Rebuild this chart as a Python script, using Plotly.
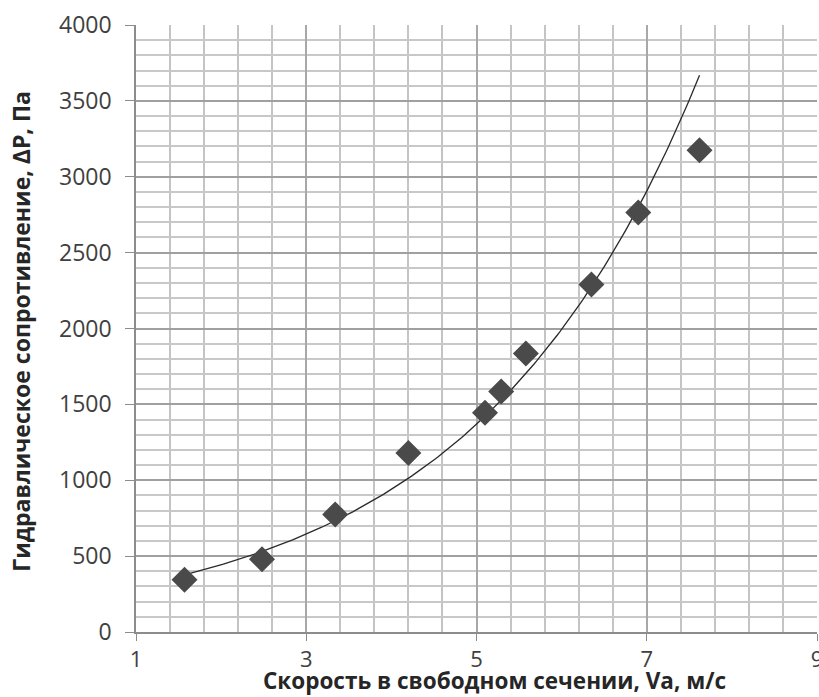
import numpy as np
import plotly.graph_objects as go

# Data
velocity = [1.57, 2.48, 3.34, 4.20, 5.10, 5.29, 5.58, 6.35, 6.90, 7.62]
pressure = [345, 480, 775, 1180, 1445, 1585, 1835, 2290, 2765, 3175]

x_title = "Скорость в свободном сечении, Va, м/с"
y_title = "Гидравлическое сопротивление, ΔP, Па"

# Exponential trendline (least squares on log), like a spreadsheet trendline
b, ln_a = np.polyfit(np.array(velocity), np.log(np.array(pressure)), 1)
xs = np.linspace(min(velocity), max(velocity), 200)
ys = np.exp(ln_a) * np.exp(b * xs)

fig = go.Figure()
fig.add_trace(go.Scatter(
    x=xs, y=ys, mode="lines",
    line=dict(color="#2a2a2a", width=1.3),
    hoverinfo="skip", showlegend=False,
))
fig.add_trace(go.Scatter(
    x=velocity, y=pressure, mode="markers",
    marker=dict(symbol="diamond", size=20, color="#4a4a4a",
                line=dict(width=0)),
    showlegend=False,
))

font_family = "Open Sans, Liberation Sans, sans-serif"

fig.update_layout(
    width=819, height=697,
    margin=dict(l=136, r=2, t=25, b=65),
    paper_bgcolor="white", plot_bgcolor="white",
    font=dict(family=font_family, color="#404040"),
    annotations=[
        dict(text="<b>" + x_title + "</b>", xref="paper", yref="paper",
             x=0.5265, y=-0.0806, xanchor="center", yanchor="middle",
             showarrow=False, font=dict(size=22.5, color="#262626")),
        dict(text="<b>" + y_title + "</b>", xref="paper", yref="paper",
             x=-0.17, y=0.495, xanchor="center", yanchor="middle",
             textangle=-90, showarrow=False,
             font=dict(size=23, color="#262626")),
    ],
)
fig.update_xaxes(
    range=[1, 9], tick0=1, dtick=2, automargin=False,
    showgrid=True, gridcolor="#a8a8a8", gridwidth=1.5,
    minor=dict(tick0=1, dtick=0.4, showgrid=True, gridcolor="#c4c4c4", gridwidth=1.5),
    showline=True, linecolor="#8c8c8c", linewidth=1.5,
    ticks="outside", ticklen=7, tickcolor="#8c8c8c",
    ticklabeloverflow="allow",
    tickfont=dict(size=22, color="#404040"),
    zeroline=False,
)
fig.update_yaxes(
    range=[0, 4000], tick0=0, dtick=500, automargin=False,
    showgrid=True, gridcolor="#a0a0a0", gridwidth=1.5,
    minor=dict(tick0=0, dtick=100, showgrid=True, gridcolor="#c8c8c8", gridwidth=1.5),
    showline=True, linecolor="#8c8c8c", linewidth=1.5,
    ticks="outside", ticklen=9, tickcolor="#8c8c8c",
    ticklabelstandoff=9,
    tickfont=dict(size=23, color="#404040"),
    zeroline=False,
)

post = (
    "document.body.style.margin='0';"
    "document.body.style.overflow='hidden';"
    "var gd=document.getElementById('{plot_id}');"
    "Plotly.relayout(gd,{width:819,height:697});"
)

fig.write_html("out.html", post_script=post, config={"displayModeBar": False})
